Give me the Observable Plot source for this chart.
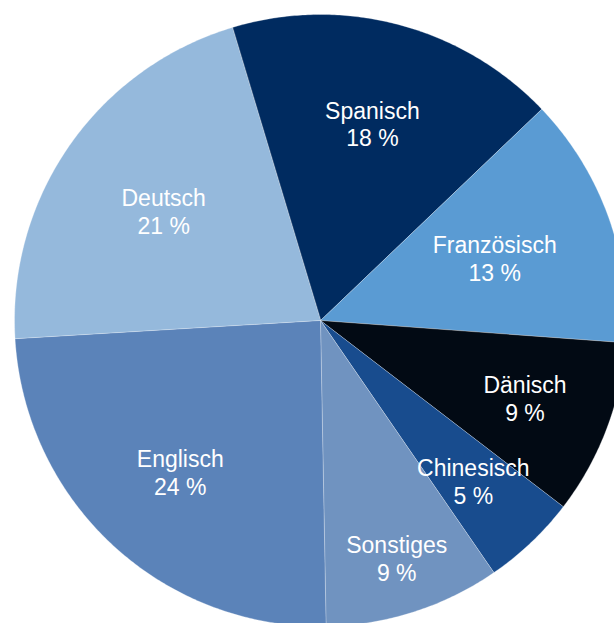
<!DOCTYPE html>
<html>
<head>
<meta charset="utf-8">
<script src="https://cdn.jsdelivr.net/npm/d3@7"></script>
<script src="https://cdn.jsdelivr.net/npm/@observablehq/plot@0.6"></script>
<style>
  html, body { margin: 0; padding: 0; background: white; overflow: hidden; }
  #chart svg { display: block; }
</style>
</head>
<body>
<div id="chart"></div>
<script>
// Data (clockwise, starting near 12 o'clock)
const languages = ["Spanisch", "Französisch", "Dänisch", "Chinesisch", "Sonstiges", "Englisch", "Deutsch"];
const shares = [17.52, 13.3, 9.25, 5.0, 9.3, 24.35, 21.3];
// Styles / layout (kept separate from data)
const colors = ["#002b60", "#5a9bd3", "#020a14", "#184c8e", "#7093c0", "#5b83b9", "#95b9dc"];
const labelRadius = [0.665, 0.605, 0.715, 0.725, 0.815, 0.675, 0.625];

const W = 614, H = 623;
const cx = 320, cy = 320, R = 306;
const startAngle = -16.75 * Math.PI / 180;

const pie = d3.pie().sort(null).startAngle(startAngle).endAngle(startAngle + 2 * Math.PI);
const arcs = pie(shares);

// polygon outline of each slice (center + arc)
const outline = [];
const labels = [];
arcs.forEach((a, i) => {
  const name = languages[i];
  outline.push({name, color: colors[i], x: 0, y: 0});
  const steps = Math.max(2, Math.ceil((a.endAngle - a.startAngle) / (Math.PI / 360)));
  for (let k = 0; k <= steps; k++) {
    const t = a.startAngle + (a.endAngle - a.startAngle) * k / steps;
    outline.push({name, color: colors[i], x: R * Math.sin(t), y: -R * Math.cos(t)});
  }
  const m = (a.startAngle + a.endAngle) / 2;
  const lr = labelRadius[i] * R;
  labels.push({
    name,
    x: lr * Math.sin(m),
    y: -lr * Math.cos(m),
    text: name + "\n" + Math.round(shares[i]) + " %"
  });
});

const chart = Plot.plot({
  width: W,
  height: H,
  margin: 0,
  x: {domain: [-cx, W - cx], range: [0, W], axis: null},
  y: {domain: [-cy, H - cy], range: [0, H], axis: null},
  color: {type: "identity"},
  marks: [
    Plot.line(outline, {
      x: "x", y: "y", z: "name",
      fill: "color",
      stroke: "white",
      strokeWidth: 0.6,
      strokeOpacity: 0.5,
      curve: "linear-closed"
    }),
    Plot.text(labels, {
      x: "x", y: "y", text: "text",
      fill: "white",
      fontSize: 23,
      fontFamily: "'Liberation Sans', Arial, Helvetica, sans-serif",
      lineHeight: 1.2,
      textAnchor: "middle"
    })
  ]
});
document.getElementById("chart").appendChild(chart);
</script>
</body>
</html>
